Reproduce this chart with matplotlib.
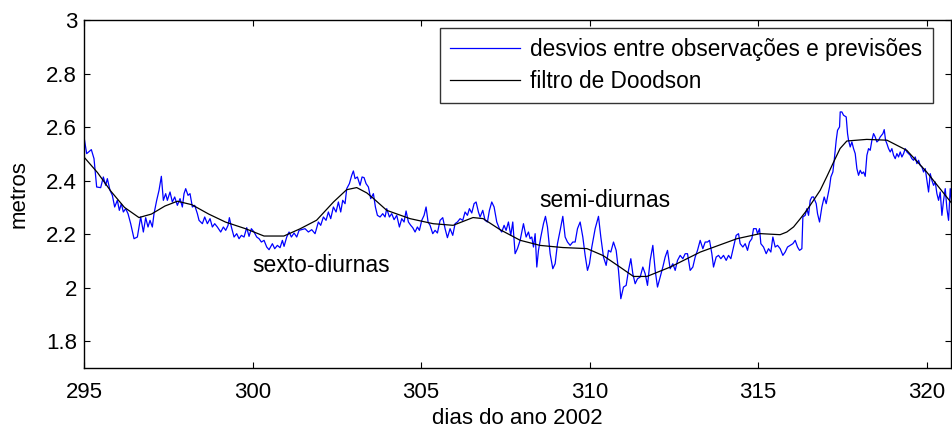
import matplotlib
matplotlib.use("Agg")
import matplotlib.pyplot as plt
import numpy as np
from matplotlib.ticker import FuncFormatter

plt.rcParams['font.family'] = ['Liberation Sans', 'DejaVu Sans']

# ---------------- data ----------------
# Doodson filter (black), day of year vs metres
filt_x = [295.00, 295.40, 295.80, 296.20, 296.63, 297.00, 297.40, 297.77, 298.20, 298.70,
          299.20, 299.80, 300.34, 300.93, 301.41, 301.90, 302.40, 302.79, 303.09, 303.39,
          303.59, 303.98, 304.67, 305.36, 305.95, 306.54, 306.84, 307.34, 307.94, 308.53,
          309.20, 309.92, 310.40, 310.90, 311.30, 311.70, 312.39, 313.28, 314.37, 315.06,
          315.65, 315.85, 316.05, 316.25, 316.44, 316.64, 316.84, 317.04, 317.24, 317.43,
          317.63, 318.22, 318.82, 319.41, 320.00, 320.75]
filt_y = [2.488, 2.430, 2.360, 2.300, 2.262, 2.275, 2.305, 2.323, 2.310, 2.275,
          2.245, 2.220, 2.193, 2.193, 2.220, 2.252, 2.320, 2.366, 2.374, 2.354,
          2.333, 2.289, 2.258, 2.239, 2.233, 2.262, 2.258, 2.217, 2.177, 2.158,
          2.150, 2.146, 2.120, 2.077, 2.042, 2.042, 2.077, 2.133, 2.183, 2.202,
          2.198, 2.208, 2.227, 2.258, 2.289, 2.326, 2.364, 2.416, 2.470, 2.520,
          2.548, 2.554, 2.551, 2.513, 2.432, 2.314]

# Deviations between observations and predictions (blue), digitised vertices
# (zoom-panel coordinates converted below only to keep the list compact)
z1x = [0, 8, 22, 30, 38, 50, 58, 65, 70, 78, 85, 92, 100, 106, 112, 118, 125, 132, 140, 150,
       160, 170, 178, 185, 192, 198, 205, 210, 218, 225, 232, 238, 245, 250, 258, 265, 272, 280,
       288, 295, 300, 305, 312, 318, 325, 332, 340, 345, 355, 362, 370, 378, 385, 392, 400, 410,
       418, 425, 432, 436, 442, 450, 458, 465, 472, 480, 488, 495, 502, 510, 518, 525, 532, 540,
       548, 555, 565, 572, 580, 588, 595, 600, 608, 615, 622, 630, 638, 645]
z1y = [80, 130, 118, 145, 230, 232, 200, 225, 205, 240, 255, 290, 270, 300, 280, 305, 295, 310, 340, 385,
       380, 320, 365, 322, 350, 330, 350, 310, 270, 240, 198, 270, 250, 270, 245, 275, 260, 285,
       265, 290, 250, 235, 255, 250, 290, 285, 310, 330, 340, 320, 340, 325, 350, 340, 350, 365,
       350, 360, 345, 322, 350, 380, 370, 385, 375, 380, 352, 378, 355, 365, 380, 385, 395, 390,
       410, 418, 400, 415, 405, 412, 390, 408, 380, 365, 380, 368, 380, 360]
z2x = [15, 25, 35, 45, 55, 62, 70, 78, 85, 92, 100, 108, 115, 122, 128, 135, 140, 148, 155, 160,
       165, 172, 180, 186, 192, 198, 205, 212, 220, 226, 232, 240, 248, 255, 260, 268, 275, 282,
       290, 298, 305, 312, 318, 325, 332, 338, 345, 352, 358, 365, 372, 378, 384, 390, 398, 405,
       412, 420, 428, 435, 442, 450, 458, 465, 472, 480, 488, 495, 502, 508, 515, 522, 528, 535,
       540, 548, 555, 562, 568, 575, 582, 590, 598, 605, 612, 618, 625, 632, 638, 645, 652]
z2y = [265, 275, 268, 280, 245, 255, 230, 240, 215, 235, 200, 215, 185, 215, 180, 190, 145, 130, 105, 92,
       115, 110, 135, 110, 112, 130, 140, 175, 160, 200, 225, 230, 220, 230, 205, 230, 220, 238,
       225, 260, 235, 245, 212, 245, 255, 262, 275, 260, 270, 240, 225, 200, 245, 255, 280, 270,
       278, 240, 232, 265, 292, 265, 285, 250, 245, 235, 240, 215, 225, 205, 218, 190, 185, 215,
       230, 210, 240, 245, 210, 185, 200, 245, 265, 275, 255, 270, 245, 285, 245, 340, 325]
z3x = [0, 10, 18, 25, 30, 35, 40, 45, 50, 55, 62, 70, 76, 82, 90, 98, 105, 112, 120, 128,
       135, 142, 150, 158, 165, 172, 180, 188, 195, 202, 208, 215, 225, 235, 242, 250, 258, 265,
       272, 280, 288, 295, 302, 310, 318, 325, 332, 338, 345, 352, 360, 368, 375, 382, 390, 398,
       405, 412, 420, 428, 435, 442, 450, 458, 465, 472, 480, 488, 495, 502, 510, 518, 525, 532,
       540, 548, 555, 562, 568, 575, 580, 588, 595, 602, 610, 618, 625, 632, 640, 648, 655]
z3y = [210, 160, 200, 185, 205, 200, 230, 190, 290, 240, 200, 160, 138, 170, 250, 295, 280, 220, 180, 138,
       200, 215, 225, 215, 215, 175, 155, 200, 255, 300, 280, 230, 175, 138, 200, 260, 285, 240,
       245, 215, 240, 300, 385, 350, 345, 300, 265, 310, 340, 325, 320, 290, 310, 345, 270, 225,
       300, 350, 320, 290, 260, 240, 295, 280, 300, 270, 255, 265, 250, 250, 300, 290, 260, 240,
       210, 235, 215, 215, 210, 250, 290, 260, 255, 265, 255, 270, 255, 265, 230, 195, 190]
z4x = [0, 8, 15, 22, 28, 35, 40, 48, 52, 58, 62, 70, 78, 85, 92, 98, 105, 112, 120, 128,
       135, 142, 150, 158, 165, 172, 178, 185, 188, 195, 200, 205, 210, 215, 220, 228, 232, 238,
       245, 252, 258, 262, 268, 272, 278, 282, 288, 292, 298, 300, 305, 310, 318, 322, 325, 330,
       335, 340, 345, 350, 355, 360, 365, 370, 375, 380, 385, 390, 395, 400, 405, 410, 415, 420,
       428, 432, 436, 440, 445, 450, 455, 460, 465, 470, 475, 480, 485, 490, 495, 500, 505, 510,
       515, 520, 525, 530, 535, 540, 545, 550, 555, 560, 565, 570, 575, 580, 585, 590, 595, 600,
       605, 610, 615, 620, 625, 630, 635]
z4y = [430, 440, 430, 450, 425, 415, 385, 385, 400, 385, 430, 440, 460, 445, 455, 410, 440, 435, 445, 465,
       455, 440, 435, 430, 420, 440, 450, 445, 350, 345, 325, 345, 300, 290, 290, 310, 340, 365,
       320, 290, 310, 290, 260, 230, 215, 180, 120, 90, 80, 35, 35, 45, 50, 100, 120, 140,
       125, 145, 160, 205, 225, 210, 220, 215, 228, 165, 145, 150, 120, 100, 110, 125, 120, 110,
       100, 88, 120, 130, 145, 155, 145, 165, 175, 160, 170, 155, 170, 160, 145, 155, 160, 165,
       175, 180, 170, 190, 180, 195, 200, 215, 205, 240, 275, 220, 240, 255, 245, 280, 300, 275,
       345, 300, 265, 325, 360, 265, 310]

obs_x = np.concatenate([295 + np.array(z1x) / 101.1, 301.409 + np.array(z2x) / 101.1,
                        307.938 + np.array(z3x) / 101.1, 314.466 + np.array(z4x) / 101.1])
obs_y = np.concatenate([2.6628 - np.array(z1y) / 802.5, 2.5507 - np.array(z2y) / 802.5,
                        2.4385 - np.array(z3y) / 802.5, 2.7002 - np.array(z4y) / 802.5])

xticks = [295, 300, 305, 310, 315, 320]
yticks = [1.8, 2.0, 2.2, 2.4, 2.6, 2.8, 3.0]

# ---------------- figure ----------------
fig = plt.figure(figsize=(9.52, 4.30), dpi=100)
ax = fig.add_axes([84/952, 1 - 368/430, (951-84)/952, (368-20)/430])

ax.plot(obs_x, obs_y, color='#0000ff', lw=0.9, label='desvios entre observações e previsões')
ax.plot(filt_x, filt_y, color='black', lw=0.9, label='filtro de Doodson')

ax.set_xlim(295, 320.72)
ax.set_ylim(1.7, 3.0)
ax.set_xticks(xticks)
ax.set_yticks(yticks)
ax.yaxis.set_major_formatter(FuncFormatter(lambda v, p: f"{v:g}"))
ax.tick_params(direction='in', top=True, right=True, length=4, width=0.8,
               labelsize=16, colors='black')
ax.tick_params(axis='x', pad=10)
ax.tick_params(axis='y', pad=5)
for s in ax.spines.values():
    s.set_linewidth(1.0)
    s.set_color('black')

ax.set_xlabel('dias do ano 2002', fontsize=16, labelpad=4)
ax.set_ylabel('metros', fontsize=16, labelpad=12)

ax.text(300.0, 2.057, 'sexto-diurnas', fontsize=16.5, ha='left', va='baseline')
ax.text(308.5, 2.300, 'semi-diurnas', fontsize=16.5, ha='left', va='baseline')

leg = ax.legend(loc='upper right', bbox_to_anchor=(0.979, 0.977), borderaxespad=0,
                fontsize=16.3, frameon=True, fancybox=False, handlelength=3.1,
                handletextpad=0.45, labelspacing=0.38, borderpad=0.45)
leg.get_frame().set_edgecolor('black')
leg.get_frame().set_linewidth(1.0)

fig.savefig('out.png', dpi=100)
